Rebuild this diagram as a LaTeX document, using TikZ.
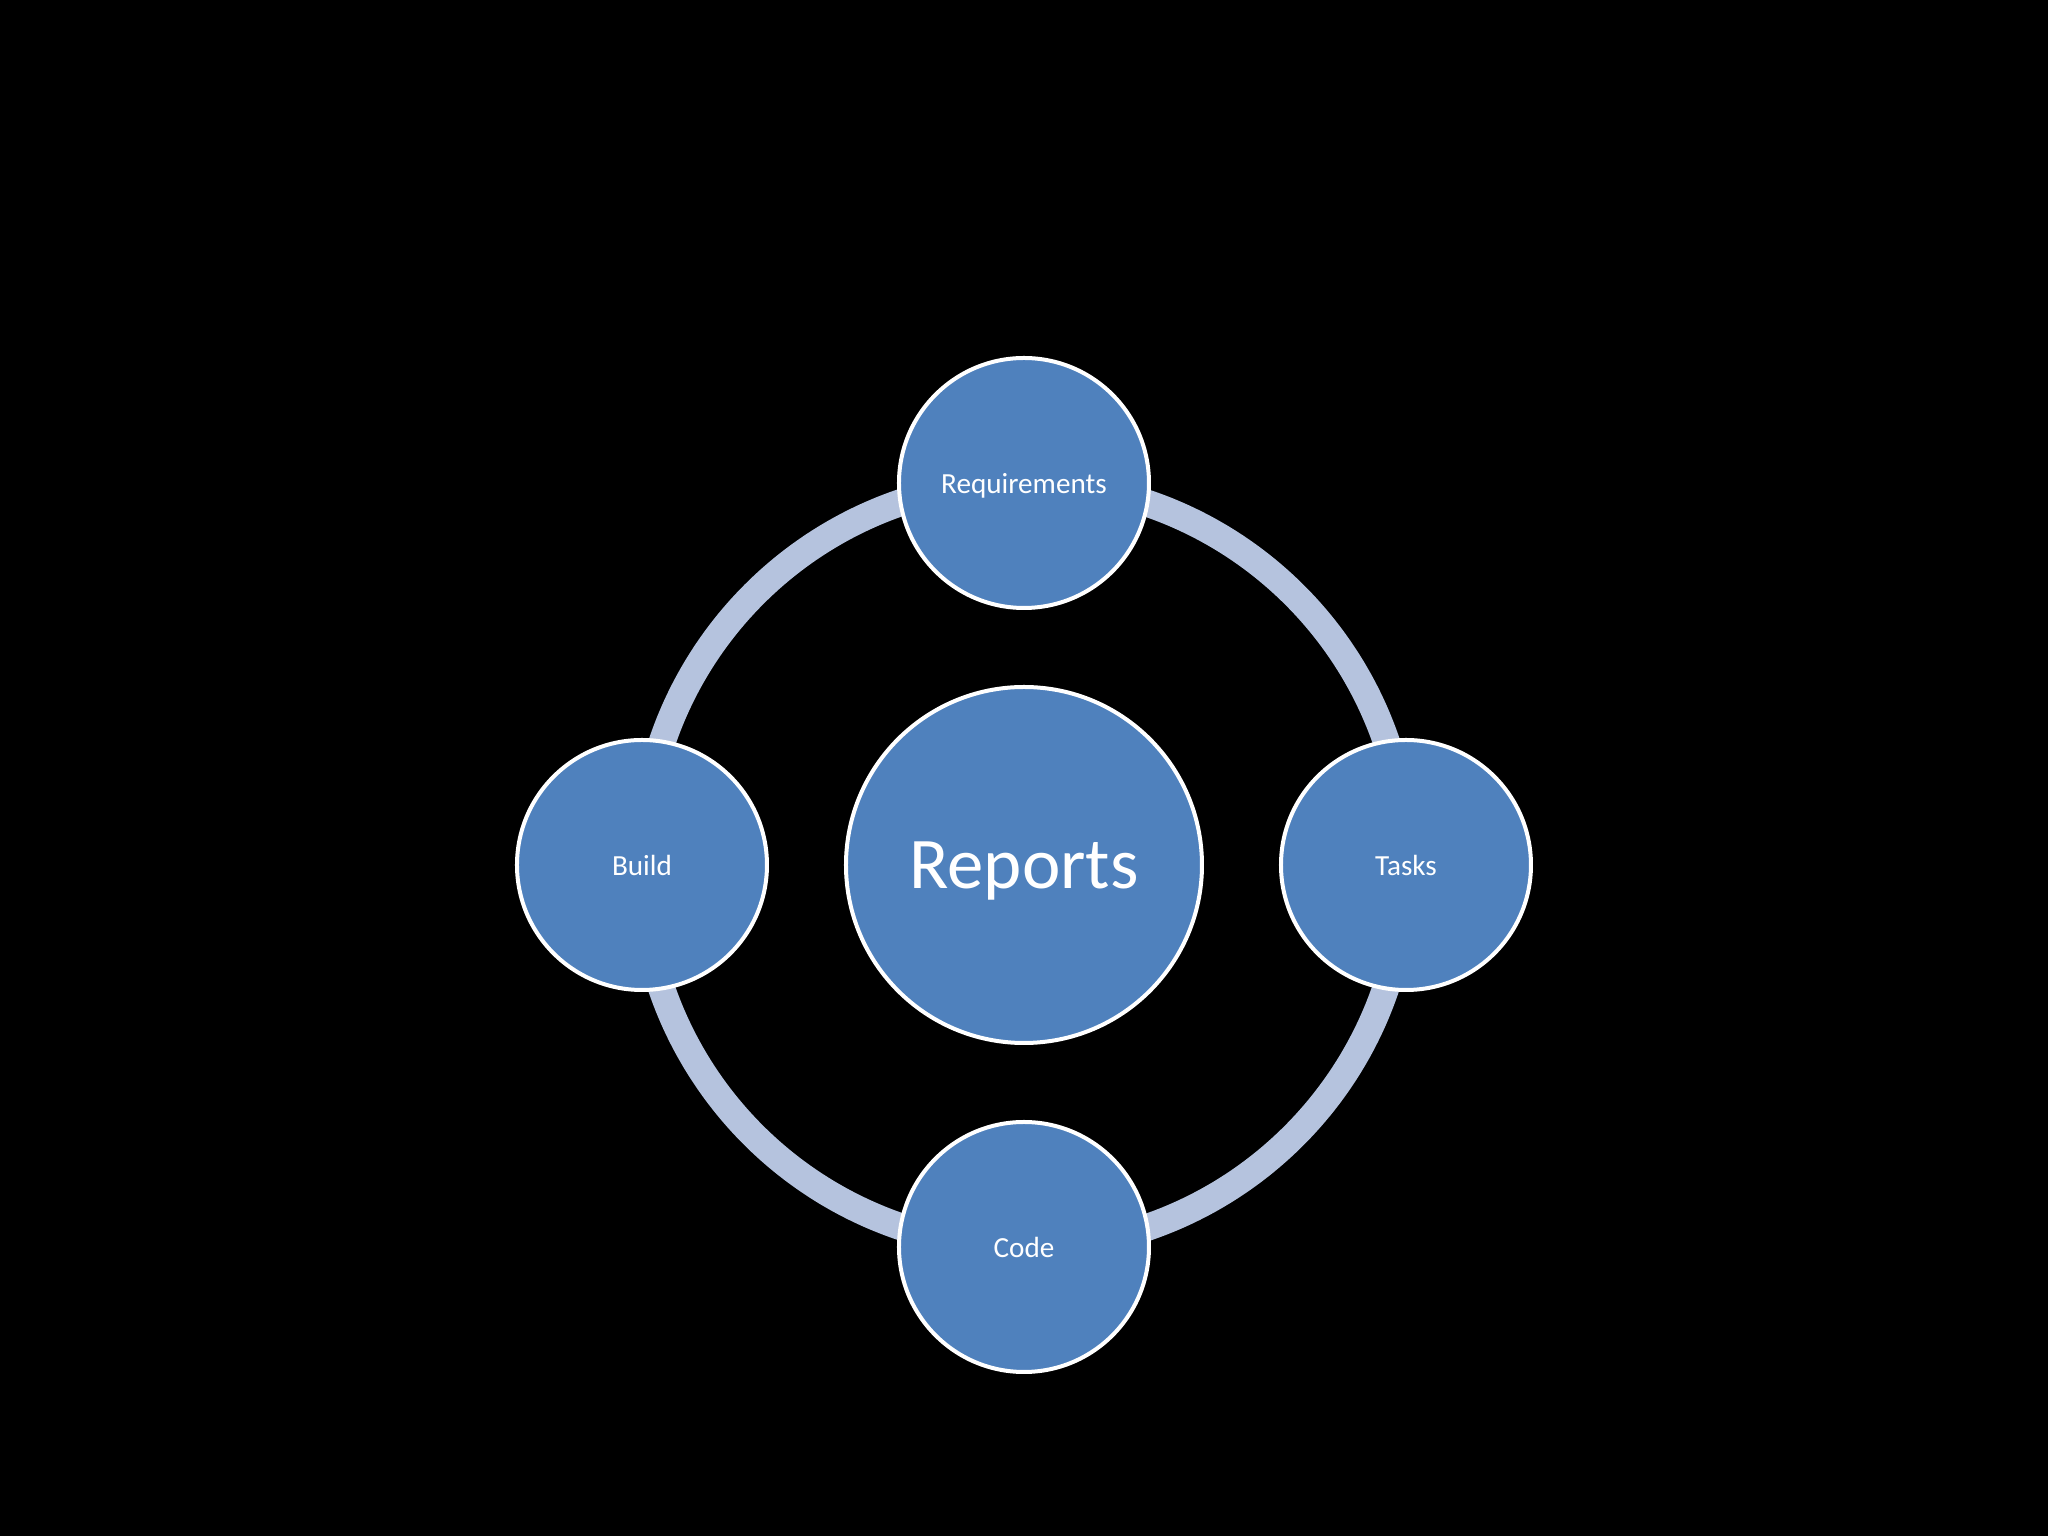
\documentclass[tikz,border=0pt]{standalone}
\usepackage{fontspec}
\setmainfont{Carlito}
\usepackage{tikz}
\usetikzlibrary{backgrounds}
\definecolor{officeblue}{HTML}{4F81BD}
\definecolor{ringblue}{HTML}{B5C3DE}

\begin{document}
\begin{tikzpicture}[
    hub/.style={circle, draw=white, line width=0.04cm, fill=officeblue, minimum size=3.56cm, inner sep=0pt, text=white, text depth=0pt, font=\fontsize{20.7}{24}\selectfont},
    spoke/.style={circle, draw=white, line width=0.04cm, fill=officeblue, minimum size=2.5cm, inner sep=0pt, text=white, text depth=0pt, font=\fontsize{8.3}{10}\selectfont},
    ring/.style={line width=0.27cm, ringblue},
]
\useasboundingbox (-10.24,-6.71) rectangle (10.24,8.65);

% Nodes
\node[hub] (rep) at (0,0) {Reports};
\node[spoke] (req) at (90:3.82) {Requirements};
\node[spoke] (tasks) at (0:3.82) {Tasks};
\node[spoke] (code) at (-90:3.82) {Code};
\node[spoke] (build) at (180:3.82) {Build};

% Ring behind the nodes
\begin{scope}[on background layer]
\fill[black] (-10.24,-6.71) rectangle (10.24,8.65);
\draw[ring] (req.center) arc[start angle=90, end angle=0, radius=3.83];
\draw[ring] (tasks.center) arc[start angle=0, end angle=-90, radius=3.83];
\draw[ring] (code.center) arc[start angle=-90, end angle=-180, radius=3.83];
\draw[ring] (build.center) arc[start angle=180, end angle=90, radius=3.83];
\end{scope}

\end{tikzpicture}
\end{document}
